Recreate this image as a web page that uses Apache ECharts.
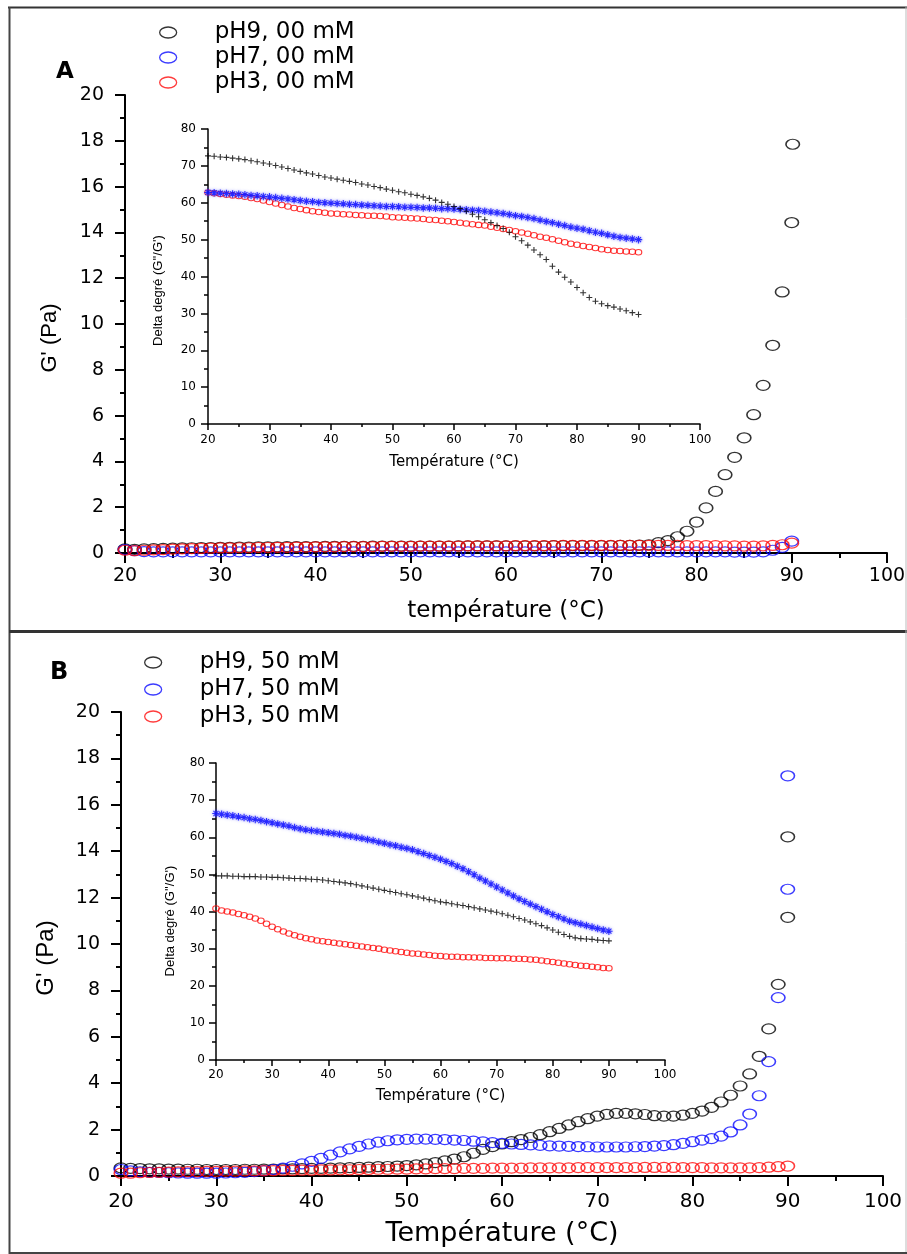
<!DOCTYPE html>
<html><head><meta charset="utf-8">
<script src="https://cdn.jsdelivr.net/npm/echarts@6/dist/echarts.min.js"></script>
<style>html,body{margin:0;padding:0;background:#fff}#c{width:907px;height:1254px}</style>
</head><body><div id="c"></div>
<script>
// ---------- DATA ----------
const temps = [20,21,22,23,24,25,26,27,28,29,30,31,32,33,34,35,36,37,38,39,40,41,42,43,44,45,46,47,48,49,50,51,52,53,54,55,56,57,58,59,60,61,62,63,64,65,66,67,68,69,70,71,72,73,74,75,76,77,78,79,80,81,82,83,84,85,86,87,88,89,90];
const tempRange = [20, 100];
const gRange = [0, 20];
const deltaRange = [0, 80];
const namesA = ['pH9, 00 mM', 'pH7, 00 mM', 'pH3, 00 mM'];
const namesB = ['pH9, 50 mM', 'pH7, 50 mM', 'pH3, 50 mM'];

// Panel A, G' (Pa)
const mainA_pH9 = [0.18,0.16,0.18,0.19,0.20,0.21,0.22,0.23,0.24,0.24,
 0.25,0.25,0.26,0.26,0.27,0.27,0.27,0.28,0.28,0.28,
 0.28,0.29,0.29,0.29,0.29,0.29,0.30,0.30,0.30,0.30,
 0.30,0.30,0.30,0.30,0.30,0.31,0.31,0.31,0.31,0.31,
 0.31,0.31,0.31,0.31,0.31,0.32,0.32,0.32,0.32,0.32,
 0.32,0.32,0.33,0.33,0.34,0.36,0.45,0.54,0.71,0.95,
 1.35,1.97,2.69,3.42,4.18,5.03,6.04,7.32,9.07,11.4,
 14.43];
const mainA_pH9_extra = [[90.1, 17.85]];
const mainA_pH7 = [0.15,0.10,0.06,0.05,0.05,0.05,0.05,0.05,0.05,0.05,
 0.05,0.05,0.05,0.05,0.05,0.05,0.05,0.05,0.05,0.05,
 0.05,0.05,0.05,0.05,0.05,0.05,0.05,0.05,0.05,0.05,
 0.05,0.05,0.05,0.05,0.05,0.05,0.05,0.05,0.05,0.05,
 0.05,0.05,0.05,0.05,0.05,0.05,0.05,0.05,0.05,0.05,
 0.05,0.05,0.05,0.05,0.05,0.05,0.05,0.05,0.05,0.05,
 0.05,0.05,0.05,0.05,0.04,0.04,0.04,0.05,0.12,0.25,
 0.52];
const mainA_pH3 = [0.12,0.10,0.12,0.14,0.15,0.17,0.18,0.19,0.20,0.21,
 0.22,0.22,0.23,0.23,0.24,0.24,0.25,0.25,0.26,0.26,
 0.27,0.27,0.27,0.28,0.28,0.28,0.28,0.29,0.29,0.29,
 0.29,0.30,0.30,0.30,0.30,0.30,0.31,0.31,0.31,0.31,
 0.31,0.32,0.32,0.32,0.32,0.32,0.33,0.33,0.33,0.33,
 0.33,0.33,0.33,0.33,0.33,0.33,0.33,0.33,0.33,0.32,
 0.32,0.32,0.32,0.31,0.31,0.30,0.30,0.31,0.33,0.36,
 0.43];

// Panel A inset, delta (degree)
const insetA_pH9 = [72.7,72.6,72.4,72.3,72.1,71.9,71.7,71.4,71.1,70.8,
 70.5,70.1,69.7,69.3,68.9,68.5,68.1,67.8,67.4,67.0,
 66.7,66.4,66.1,65.8,65.5,65.1,64.8,64.4,64.1,63.7,
 63.4,63.0,62.7,62.3,62.0,61.6,61.2,60.7,60.1,59.6,
 59.0,58.4,57.7,56.9,56.2,55.4,54.6,53.8,53.0,52.0,
 50.8,49.7,48.5,47.2,45.9,44.6,42.8,41.2,39.8,38.5,
 37.0,35.6,34.3,33.3,32.6,32.1,31.7,31.2,30.7,30.2,
 29.7];
const insetA_pH7 = [62.8,62.7,62.6,62.5,62.4,62.3,62.2,62.0,61.9,61.7,
 61.6,61.4,61.2,61.0,60.8,60.6,60.4,60.3,60.1,60.0,
 59.9,59.8,59.7,59.6,59.5,59.4,59.3,59.2,59.1,59.0,
 59.0,58.9,58.8,58.8,58.7,58.6,58.6,58.5,58.4,58.4,
 58.3,58.2,58.1,58.0,57.9,57.7,57.5,57.3,57.1,56.8,
 56.5,56.3,56.0,55.7,55.3,54.9,54.6,54.2,53.8,53.4,
 53.1,52.8,52.4,52.0,51.7,51.3,50.9,50.6,50.4,50.2,
 50.0];
const insetA_pH3 = [62.8,62.6,62.4,62.2,62.0,61.8,61.6,61.3,61.0,60.6,
 60.2,59.8,59.4,59.0,58.6,58.3,58.0,57.7,57.5,57.3,
 57.1,57.0,56.9,56.8,56.7,56.6,56.5,56.5,56.4,56.3,
 56.1,56.0,55.9,55.8,55.7,55.6,55.4,55.3,55.1,55.0,
 54.8,54.6,54.4,54.2,54.0,53.8,53.5,53.2,52.9,52.6,
 52.3,51.9,51.6,51.2,50.8,50.5,50.1,49.7,49.3,48.9,
 48.6,48.3,48.0,47.7,47.4,47.2,47.0,46.9,46.8,46.7,
 46.6];

// Panel B, G' (Pa)
const mainB_pH9 = [0.35,0.33,0.32,0.31,0.31,0.30,0.30,0.29,0.29,0.28,
 0.28,0.28,0.28,0.29,0.29,0.30,0.30,0.31,0.31,0.32,
 0.33,0.33,0.34,0.35,0.36,0.37,0.38,0.40,0.41,0.43,
 0.45,0.48,0.52,0.58,0.65,0.73,0.83,0.98,1.15,1.27,
 1.38,1.48,1.57,1.66,1.78,1.91,2.05,2.20,2.34,2.47,
 2.58,2.66,2.70,2.70,2.68,2.65,2.60,2.58,2.58,2.62,
 2.70,2.80,2.96,3.19,3.48,3.88,4.40,5.16,6.34,8.26,
 11.15];
const mainB_pH9_extra = [[90, 14.62]];
const mainB_pH7 = [0.28,0.22,0.18,0.16,0.15,0.14,0.13,0.12,0.12,0.12,
 0.12,0.13,0.14,0.16,0.19,0.23,0.28,0.34,0.42,0.52,
 0.63,0.76,0.90,1.04,1.17,1.28,1.38,1.46,1.52,1.56,
 1.58,1.59,1.59,1.58,1.57,1.55,1.53,1.50,1.47,1.44,
 1.41,1.38,1.36,1.34,1.32,1.30,1.29,1.28,1.27,1.26,
 1.25,1.25,1.25,1.25,1.26,1.27,1.29,1.31,1.35,1.41,
 1.48,1.55,1.61,1.72,1.90,2.20,2.67,3.46,4.93,7.69,
 12.36];
const mainB_pH7_extra = [[90, 17.25]];
const mainB_pH3 = [0.12,0.12,0.14,0.15,0.16,0.17,0.18,0.19,0.19,0.20,
 0.20,0.21,0.21,0.22,0.22,0.23,0.23,0.24,0.24,0.25,
 0.25,0.26,0.26,0.27,0.27,0.28,0.28,0.29,0.29,0.30,
 0.30,0.31,0.31,0.32,0.32,0.32,0.33,0.33,0.33,0.34,
 0.34,0.34,0.34,0.35,0.35,0.35,0.35,0.35,0.36,0.36,
 0.36,0.36,0.36,0.36,0.36,0.37,0.37,0.37,0.37,0.36,
 0.36,0.36,0.35,0.35,0.35,0.35,0.35,0.36,0.38,0.40,
 0.43];

// Panel B inset, delta (degree)
const insetB_pH9 = [49.6,49.6,49.6,49.5,49.5,49.4,49.4,49.4,49.3,49.3,
 49.2,49.2,49.1,49.0,48.9,48.9,48.8,48.7,48.6,48.5,
 48.3,48.1,47.9,47.7,47.5,47.2,46.9,46.6,46.3,46.0,
 45.7,45.4,45.1,44.8,44.5,44.2,43.9,43.6,43.2,42.9,
 42.6,42.4,42.1,41.8,41.6,41.3,41.0,40.7,40.4,40.1,
 39.8,39.4,39.0,38.6,38.1,37.7,37.2,36.7,36.2,35.6,
 35.0,34.4,33.8,33.3,32.9,32.7,32.6,32.5,32.3,32.2,
 32.1];
const insetB_pH7 = [66.4,66.2,66.0,65.8,65.5,65.3,65.0,64.8,64.5,64.2,
 63.9,63.6,63.3,63.0,62.6,62.3,62.0,61.8,61.6,61.4,
 61.2,61.0,60.8,60.5,60.3,60.0,59.7,59.4,59.1,58.7,
 58.4,58.0,57.7,57.3,57.0,56.6,56.1,55.6,55.1,54.6,
 54.1,53.5,52.9,52.2,51.5,50.7,49.9,49.0,48.2,47.4,
 46.6,45.8,45.0,44.2,43.4,42.7,42.0,41.3,40.6,39.9,
 39.2,38.6,38.0,37.4,37.0,36.6,36.2,35.8,35.4,35.0,
 34.7];
const insetB_pH3 = [40.8,40.3,40.0,39.7,39.3,39.0,38.6,38.1,37.5,36.7,
 35.9,35.2,34.6,34.1,33.6,33.2,32.8,32.5,32.2,32.0,
 31.8,31.6,31.4,31.2,31.0,30.8,30.6,30.4,30.2,30.0,
 29.7,29.5,29.3,29.1,28.9,28.7,28.6,28.4,28.3,28.1,
 28.0,27.9,27.8,27.8,27.7,27.7,27.6,27.6,27.5,27.5,
 27.4,27.4,27.4,27.3,27.3,27.2,27.1,27.0,26.8,26.6,
 26.4,26.2,26.0,25.8,25.6,25.4,25.3,25.1,25.0,24.8,
 24.7];

// ---------- STYLE ----------
const COL = { pH9: '#000000', pH7: '#0a0aff', pH3: '#ff0a0a' };
const ELL = 'path://M0,10A10,10,0,1,1,20,10A10,10,0,1,1,0,10Z';
const LEG_ELL = 'path://M0,5.5A8.5,5.5,0,1,1,17,5.5A8.5,5.5,0,1,1,0,5.5Z';
const PLUS = 'path://M5,0L5,10M0,5L10,5';
const STAR = 'path://M5,0L5,10M0,5L10,5M1.6,1.6L8.4,8.4M8.4,1.6L1.6,8.4';
const WIDE = 'DejaVu Sans';
const ARIAL = 'Liberation Sans, Arial';

function pts(vals, extra) {
  const p = temps.map((t, i) => [t, vals[i]]);
  return extra ? p.concat(extra) : p;
}
function mainS(name, vals, color, gi, extra) {
  return { type: 'scatter', name, xAxisIndex: gi, yAxisIndex: gi, data: pts(vals, extra),
    symbol: ELL, symbolSize: [13.5, 10], clip: false, silent: true, z: 3,
    itemStyle: { color: 'rgba(0,0,0,0)', borderColor: color, borderWidth: 1.4 } };
}
function insetS(name, vals, color, gi, sym, size, extraStyle) {
  return { type: 'scatter', name, xAxisIndex: gi, yAxisIndex: gi, data: pts(vals),
    symbol: sym, symbolSize: size, clip: false, silent: true, z: 5,
    itemStyle: Object.assign({ color: 'rgba(0,0,0,0)', borderColor: color, borderWidth: 1.1 }, extraStyle || {}) };
}
function axis(kind, gi, range, interval, o) {
  return {
    type: 'value', gridIndex: gi, min: range[0], max: range[1], interval,
    name: o.name, nameLocation: 'middle', nameGap: o.gap, nameMoveOverlap: false,
    nameTextStyle: { color: '#000', fontSize: o.nfs, fontFamily: o.nff, padding: o.npad || 0 },
    axisLine: { show: true, onZero: false, lineStyle: { color: '#000', width: o.lw } },
    axisTick: { show: true, inside: false, length: o.tl, lineStyle: { color: '#000', width: o.lw } },
    minorTick: { show: true, splitNumber: 2, length: o.ml, lineStyle: { color: '#000', width: o.lw } },
    axisLabel: { color: '#000', fontSize: o.fs, fontFamily: WIDE, margin: o.lm },
    splitLine: { show: false }, minorSplitLine: { show: false }, z: o.z || 2
  };
}
function legendFor(names, left, top, gap) {
  const cols = [COL.pH9, COL.pH7, COL.pH3];
  return {
    orient: 'vertical', left, top, itemGap: gap, itemWidth: 17, itemHeight: 11, padding: 0,
    selectedMode: false,
    data: names.map((n, i) => ({ name: n, icon: LEG_ELL,
      itemStyle: { color: 'rgba(0,0,0,0)', borderColor: cols[i], borderWidth: 1.3 } })),
    textStyle: { color: '#000', fontSize: 23, fontFamily: WIDE, lineHeight: 23, padding: [0, 0, 0, 33] }
  };
}

const option = {
  animation: false,
  backgroundColor: '#ffffff',
  grid: [
    { left: 125, top: 95, width: 762, height: 458, outerBoundsMode: 'none', containLabel: false },
    { left: 208, top: 129, width: 492, height: 295, outerBoundsMode: 'none', containLabel: false },
    { left: 121, top: 712, width: 762, height: 464, outerBoundsMode: 'none', containLabel: false },
    { left: 216, top: 763, width: 449, height: 297, outerBoundsMode: 'none', containLabel: false }
  ],
  xAxis: [
    axis('x', 0, tempRange, 10, { name: 'température (°C)', gap: 47, nfs: 23, nff: WIDE, lw: 2, tl: 10, ml: 5, fs: 19, lm: 14 }),
    axis('x', 1, tempRange, 10, { name: 'Température (°C)', gap: 31, nfs: 15, nff: WIDE, lw: 1.5, tl: 6, ml: 3, fs: 12, lm: 10, z: 4 }),
    axis('x', 2, tempRange, 10, { name: 'Température (°C)', gap: 44, nfs: 27, nff: WIDE, lw: 2, tl: 10, ml: 5, fs: 20, lm: 16 }),
    axis('x', 3, tempRange, 10, { name: 'Température (°C)', gap: 29, nfs: 15, nff: WIDE, lw: 1.5, tl: 6, ml: 3, fs: 12, lm: 9, z: 4 })
  ],
  yAxis: [
    axis('y', 0, gRange, 2, { name: "G' (Pa)", gap: 64, nfs: 22, nff: ARIAL, npad: [0, 28, 0, 0], lw: 2, tl: 10, ml: 5, fs: 19, lm: 21 }),
    axis('y', 1, deltaRange, 10, { name: "Delta degré (G''/G')", gap: 43, nfs: 13, nff: ARIAL, npad: [0, 28, 0, 0], lw: 1.5, tl: 7, ml: 4, fs: 12, lm: 12, z: 4 }),
    axis('y', 2, gRange, 2, { name: "G' (Pa)", gap: 63, nfs: 24, nff: ARIAL, npad: [0, 28, 0, 0], lw: 2, tl: 10, ml: 5, fs: 19, lm: 21 }),
    axis('y', 3, deltaRange, 10, { name: "Delta degré (G''/G')", gap: 39, nfs: 13, nff: ARIAL, npad: [0, 19, 0, 0], lw: 1.5, tl: 7, ml: 4, fs: 12, lm: 11, z: 4 })
  ],
  legend: [
    legendFor(namesA, 159, 21, 2),
    legendFor(namesB, 144, 651, 4)
  ],
  series: [
    mainS(namesA[0], mainA_pH9, COL.pH9, 0, mainA_pH9_extra),
    mainS(namesA[1], mainA_pH7, COL.pH7, 0),
    mainS(namesA[2], mainA_pH3, COL.pH3, 0),
    insetS('Delta ' + namesA[2], insetA_pH3, COL.pH3, 1, ELL, [6.5, 5.5]),
    insetS('Delta ' + namesA[1], insetA_pH7, COL.pH7, 1, STAR, [7.5, 7.5], { shadowBlur: 3, shadowColor: 'rgba(90,90,255,0.9)' }),
    insetS('Delta ' + namesA[0], insetA_pH9, COL.pH9, 1, PLUS, [6, 6]),
    mainS(namesB[0], mainB_pH9, COL.pH9, 2, mainB_pH9_extra),
    mainS(namesB[1], mainB_pH7, COL.pH7, 2, mainB_pH7_extra),
    mainS(namesB[2], mainB_pH3, COL.pH3, 2),
    insetS('Delta ' + namesB[2], insetB_pH3, COL.pH3, 3, ELL, [6.5, 5.5]),
    insetS('Delta ' + namesB[1], insetB_pH7, COL.pH7, 3, STAR, [7.5, 7.5], { shadowBlur: 3, shadowColor: 'rgba(90,90,255,0.9)' }),
    insetS('Delta ' + namesB[0], insetB_pH9, COL.pH9, 3, PLUS, [6, 6])
  ],
  graphic: [
    { type: 'line', shape: { x1: 8, y1: 7.5, x2: 907, y2: 7.5 }, style: { stroke: '#333', lineWidth: 2 }, silent: true },
    { type: 'line', shape: { x1: 9.5, y1: 7, x2: 9.5, y2: 1254 }, style: { stroke: '#444', lineWidth: 2 }, silent: true },
    { type: 'line', shape: { x1: 9, y1: 631.5, x2: 907, y2: 631.5 }, style: { stroke: '#333', lineWidth: 3 }, silent: true },
    { type: 'line', shape: { x1: 906, y1: 7, x2: 906, y2: 1254 }, style: { stroke: '#bbb', lineWidth: 1 }, silent: true },
    { type: 'line', shape: { x1: 9, y1: 1253, x2: 907, y2: 1253 }, style: { stroke: '#444', lineWidth: 2 }, silent: true },
    { type: 'text', left: 56, top: 61, silent: true,
      style: { text: 'A', fontSize: 23, fontWeight: 'bold', fontFamily: WIDE, fill: '#000' } },
    { type: 'text', left: 50, top: 661, silent: true,
      style: { text: 'B', fontSize: 24, fontWeight: 'bold', fontFamily: WIDE, fill: '#000' } }
  ]
};

const chart = echarts.init(document.getElementById('c'), null, { renderer: 'canvas', width: 907, height: 1254 });
chart.setOption(option);
</script>
</body></html>
